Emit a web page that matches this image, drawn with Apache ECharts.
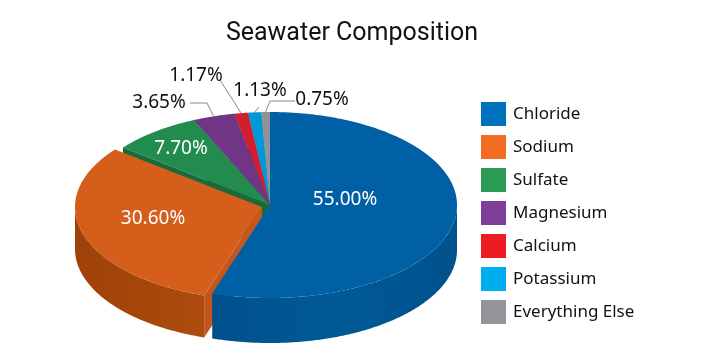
<!DOCTYPE html>
<html><head><meta charset="utf-8">
<style>html,body{margin:0;padding:0;background:#fff}#c{width:720px;height:360px}</style>
<script src="https://cdn.jsdelivr.net/npm/echarts@6/dist/echarts.min.js"></script>
</head><body><div id="c"></div>
<script>
var titleText = 'Seawater Composition';
var categories = ['Chloride','Sodium','Sulfate','Magnesium','Calcium','Potassium','Everything Else'];
var shares = [55.00,30.60,7.70,3.65,1.17,1.13,0.75];
var legendColors = ['#0071BC','#F26D21','#2A9A55','#7F3F98','#ED1C24','#00AEEF','#939598'];
var topColors = ['#0060A5','#D55E1A','#228B4E','#703587','#D21F2D','#0099D8','#919396'];
var cutColors = ['#00508C','#C2561E','#1A6B3B','#55266A','#A01822','#0077A8','#6F7174'];
var wallStops = [['#00508C','#005A97','#00528C'],['#9F420A','#A64609','#AE4C10'],null,null,null,null,null];
var FONT = 'Noto Sans';
var CX=270, CY=205, RX=187, RY=93;
var depths=[45,42,45,45,45,45,45];
var labelPlace = [
 {x:345,y:200,c:'#fff'},
 {x:153,y:219,c:'#fff'},
 {x:181,y:149,c:'#fff'},
 {x:159,y:103,c:'#111',line:[[190,103],[207,103]]},
 {x:196,y:76,c:'#111',line:[[220,80]]},
 {x:260,y:91,c:'#111',line:[[259,107]]},
 {x:322,y:100,c:'#111',line:[[295,101],[270,101]]}
];
var offsets = [[0,0],[-8,2],[0,0],[0,0],[0,0],[0,0],[0,0]];
var total = shares.reduce(function(a,b){return a+b},0);
var starts=[],acc=0;
shares.forEach(function(v){starts.push(acc/total*360);acc+=v;});

function pt(deg,ox,oy,dy){var r=deg*Math.PI/180;return [CX+ox+RX*Math.sin(r),CY+oy-RY*Math.cos(r)+(dy||0)];}
function arc(a,b,ox,oy,dy){var pts=[],n=Math.max(2,Math.ceil((b-a)*2));for(var i=0;i<=n;i++){pts.push(pt(a+(b-a)*i/n,ox,oy,dy));}return pts;}

function renderSlice(i){
  var a=starts[i], b=a+shares[i]/total*360, ox=offsets[i][0], oy=offsets[i][1], D=depths[i];
  var c=[CX+ox,CY+oy], kids=[];
  if(i>0 && a>180){
    var p=pt(a,ox,oy);
    kids.push({type:'polygon',shape:{points:[c,p,[p[0],p[1]+D],[c[0],c[1]+D]]},style:{fill:cutColors[i]}});
  }
  var wa=Math.max(a,90), wb=Math.min(b,270);
  if(wb>wa && wallStops[i]){
    var top=arc(wa,wb,ox,oy,0), bot=arc(wa,wb,ox,oy,D).reverse();
    var s=wallStops[i];
    kids.push({type:'polygon',shape:{points:top.concat(bot)},style:{fill:new echarts.graphic.LinearGradient(0,0,1,0,[{offset:0,color:s[0]},{offset:0.5,color:s[1]},{offset:1,color:s[2]}])}});
  }
  kids.push({type:'polygon',shape:{points:[c].concat(arc(a,b,ox,oy,0))},style:{fill:topColors[i]}});
  var lp=labelPlace[i];
  if(lp.line){
    var mid=(a+b)/2, rim=pt(mid,ox,oy);
    kids.push({type:'polyline',shape:{points:lp.line.concat([rim])},style:{stroke:'#8a8a8a',lineWidth:1,fill:null}});
  }
  kids.push({type:'text',style:{x:lp.x,y:lp.y,text:shares[i].toFixed(2)+'%',fill:lp.c,font:'400 19px "'+FONT+'"',textAlign:'center',textVerticalAlign:'middle'},z2:100});
  return {type:'group',children:kids};
}
var drawOrder=[6,5,4,3,2,1,0];
var series=categories.map(function(name,i){
  return {type:'custom',name:name,coordinateSystem:'none',silent:true,animation:false,
    z:2+drawOrder.indexOf(i),
    itemStyle:{color:legendColors[i]},
    data:[[shares[i]]],
    renderItem:function(){return renderSlice(i);}};
});
var chart=echarts.init(document.getElementById('c'),null,{renderer:'canvas'});
chart.setOption({
  animation:false,
  backgroundColor:'#fff',
  title:{text:titleText,left:347,top:16,textAlign:'center',textStyle:{fontFamily:'Roboto',fontWeight:400,fontSize:25,color:'#111'}},
  legend:{orient:'vertical',left:476,top:97,itemWidth:25,itemHeight:24,itemGap:9,icon:'rect',
    data:categories,selectedMode:false,
    textStyle:{fontFamily:FONT,fontSize:17,color:'#111',padding:[0,0,0,2]}},
  series:series
});
</script></body></html>
